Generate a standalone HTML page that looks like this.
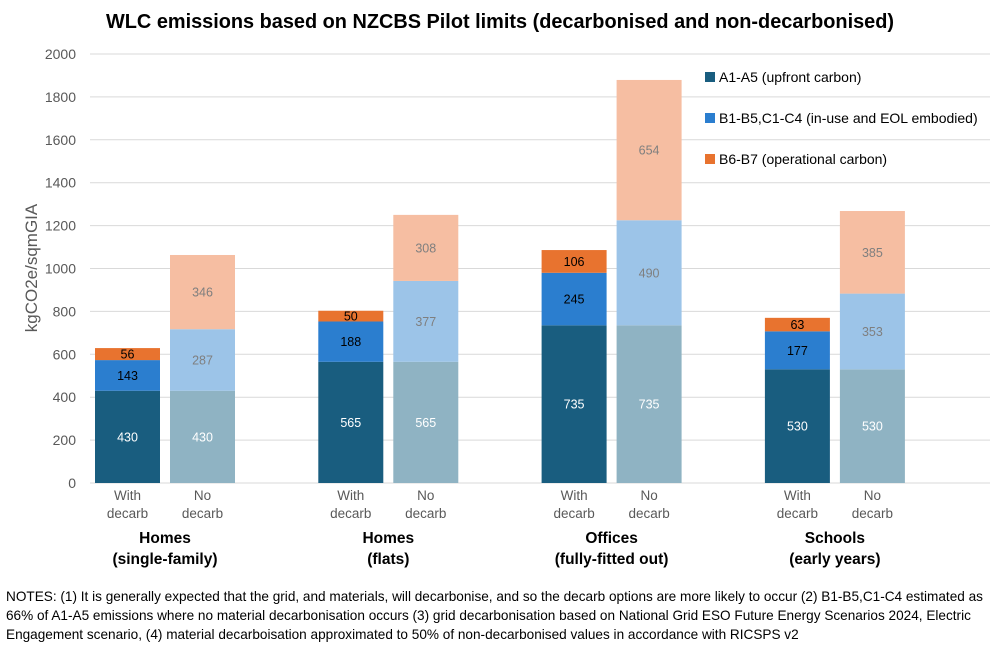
<!DOCTYPE html>
<html><head><meta charset="utf-8"><style>
body{margin:0;background:#fff;font-family:"Liberation Sans",sans-serif;}
svg text{font-family:"Liberation Sans",sans-serif;}
</style></head><body>
<svg id="c" width="1000" height="649" xmlns="http://www.w3.org/2000/svg">
<text x="500" y="28" text-anchor="middle" font-size="19.9" font-weight="bold" fill="#000">WLC emissions based on NZCBS Pilot limits (decarbonised and non-decarbonised)</text>
<text transform="translate(37,268) rotate(-90)" text-anchor="middle" font-size="17" fill="#595959">kgCO2e/sqmGIA</text>
<g id="grid"></g><g id="bars"></g><g id="xl"></g>
<g>
<rect x="705" y="72" width="10" height="10" fill="#195d7f"/>
<text x="719" y="82" font-size="14" fill="#000">A1-A5 (upfront carbon)</text>
<rect x="705" y="113" width="10" height="10" fill="#2b7ecf"/>
<text x="719" y="123" font-size="14" fill="#000">B1-B5,C1-C4 (in-use and EOL embodied)</text>
<rect x="705" y="154" width="10" height="10" fill="#e8732f"/>
<text x="719" y="164" font-size="14" fill="#000">B6-B7 (operational carbon)</text>
</g>
<text font-size="13.6" fill="#000">
<tspan x="6" y="601">NOTES: (1) It is generally expected that the grid, and materials, will decarbonise, and so the decarb options are more likely to occur (2) B1-B5,C1-C4 estimated as</tspan>
<tspan x="6" y="620">66% of A1-A5 emissions where no material decarbonisation occurs (3) grid decarbonisation based on National Grid ESO Future Energy Scenarios 2024, Electric</tspan>
<tspan x="6" y="639">Engagement scenario, (4) material decarboisation approximated to 50% of non-decarbonised values in accordance with RICSPS v2</tspan>
</text>
</svg>
<script>
const categories=[["Homes","(single-family)"],["Homes","(flats)"],["Offices","(fully-fitted out)"],["Schools","(early years)"]];
const a1a5Decarb=[430,565,735,530];
const b1b5Decarb=[143,188,245,177];
const b6b7Decarb=[56,50,106,63];
const a1a5NoDecarb=[430,565,735,530];
const b1b5NoDecarb=[287,377,490,353];
const b6b7NoDecarb=[346,308,654,385];
const yTicks=[0,200,400,600,800,1000,1200,1400,1600,1800,2000];
const NS="http://www.w3.org/2000/svg";
const y0=483,y1=54,yMax=2000;
const y=v=>y0-(v/yMax)*(y0-y1);
const gx=i=>95+i*223.3;
function mk(t,a,p){const e=document.createElementNS(NS,t);for(const k in a)e.setAttribute(k,a[k]);document.getElementById(p).appendChild(e);return e;}
yTicks.forEach(v=>{
 const l=mk('line',{x1:90,x2:990,y1:y(v),y2:y(v),stroke:'#d9d9d9','stroke-width':1},'grid');
 
 
 const t=mk('text',{x:76,y:y(v)+5,'text-anchor':'end','font-size':14,fill:'#595959'},'grid');
 
 
 t.textContent=v;
});
const bw=65;
function stack(x,vals,cols,txt,name){
 let base=0;
 vals.forEach((v,k)=>{
  const r=mk('rect',{x:x,y:y(base+v),width:bw,height:y(base)-y(base+v),fill:cols[k]},'bars');
  
  
  const t=mk('text',{x:x+bw/2,y:(y(base)+y(base+v))/2+4.5,'text-anchor':'middle','font-size':12.5,fill:txt[k]},'bars');
  
  
  t.textContent=v;
  base+=v;
 });
}
categories.forEach((c,i)=>{
 const x=gx(i);
 stack(x,[a1a5Decarb[i],b1b5Decarb[i],b6b7Decarb[i]],['#195d7f','#2b7ecf','#e8732f'],['#fff','#000','#000'],'bar-decarb-'+i);
 stack(x+75,[a1a5NoDecarb[i],b1b5NoDecarb[i],b6b7NoDecarb[i]],['#8fb3c3','#9cc4e8','#f6bea2'],['#fff','#7f7f7f','#7f7f7f'],'bar-nodecarb-'+i);
 [["With","decarb",x],["No","decarb",x+75]].forEach((s,j)=>{
  const t=mk('text',{x:s[2]+bw/2,'text-anchor':'middle','font-size':13.5,fill:'#595959'},'xl');
  
  
  t.innerHTML='<tspan x="'+(s[2]+bw/2)+'" y="500">'+s[0]+'</tspan><tspan x="'+(s[2]+bw/2)+'" y="518">'+s[1]+'</tspan>';
 });
 const t=mk('text',{'text-anchor':'middle','font-size':15.5,'font-weight':'bold',fill:'#000'},'xl');
 
 
 const cx=x+bw+5;
 t.innerHTML='<tspan x="'+cx+'" y="543">'+c[0]+'</tspan><tspan x="'+cx+'" y="564">'+c[1]+'</tspan>';
});
</script>
</body></html>
